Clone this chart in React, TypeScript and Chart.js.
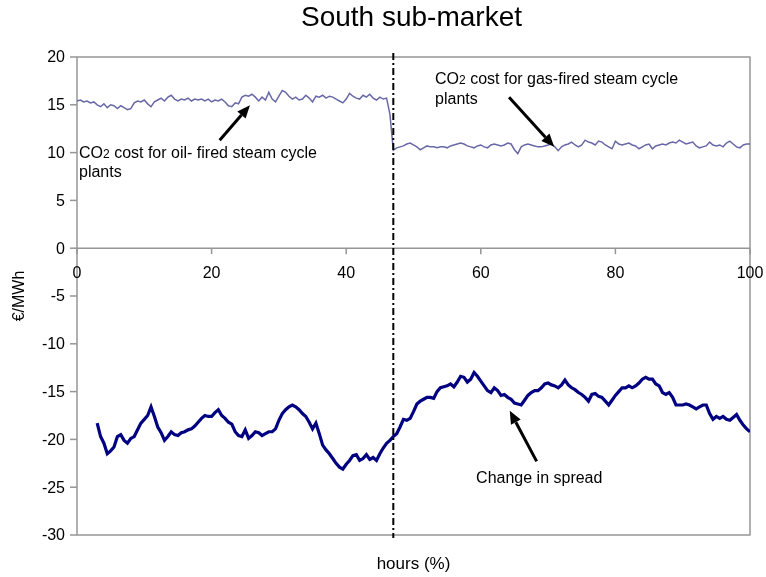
import React, { useEffect, useRef } from "react";
import { Chart, registerables } from "chart.js";
Chart.register(...registerables);

// ---------- data ----------
const X_MIN = 0;
const X_MAX = 100;
const Y_MIN = -30;
const Y_MAX = 20;
const xTicks = [0, 20, 40, 60, 80, 100];
const yTicks = [20, 15, 10, 5, 0, -5, -10, -15, -20, -25, -30];
const STEP = 0.5;
const switchPoint = 47;

const title = "South sub-market";
const xTitle = "hours (%)";
const yTitle = "€/MWh";

// CO2 cost, oil-fired steam cycle plants (x from 0)
const oilStart = 0;
const oilCost = [
  15.4, 15.5, 15.3, 15.4, 15.2, 15.3, 15.0, 14.8, 15.1, 14.7,
  15.0, 14.9, 14.6, 14.9, 14.7, 14.5, 14.6, 15.2, 15.4, 15.3,
  15.5, 15.1, 14.8, 15.3, 15.5, 15.7, 15.4, 15.8, 16.0, 15.6,
  15.4, 15.6, 15.5, 15.7, 15.4, 15.6, 15.5, 15.6, 15.4, 15.6,
  15.3, 15.5, 15.4, 15.6, 15.3, 14.9, 14.8, 15.2, 15.1, 15.8,
  16.0, 15.9, 16.1, 15.8, 15.4, 15.8, 15.5, 16.3, 15.6, 15.3,
  15.9, 16.5, 16.3, 15.9, 15.6, 15.8, 15.5, 15.6, 16.0, 15.7,
  15.3, 15.9, 15.8, 16.0, 15.7, 15.9, 15.8, 15.6, 15.4, 15.2,
  15.6, 16.2, 15.9, 15.7, 15.6, 16.0, 15.8, 16.1, 15.7, 15.5,
  15.8, 15.6, 15.7, 14.0,
];

// CO2 cost, gas-fired steam cycle plants (x from 47)
const gasStart = 47;
const gasCost = [
  10.25, 10.5, 10.6, 10.7, 10.9, 11.0, 10.8, 10.6, 10.3, 10.5,
  10.7, 10.6, 10.6, 10.5, 10.6, 10.6, 10.5, 10.7, 10.8, 10.9,
  11.0, 10.9, 10.7, 10.6, 10.5, 10.7, 10.8, 10.6, 10.5, 10.8,
  10.9, 10.8, 10.7, 10.8, 11.0, 10.9, 10.3, 9.9, 10.6, 10.8,
  10.9, 10.8, 10.7, 10.6, 10.6, 10.7, 10.8, 10.9, 10.6, 10.2,
  10.6, 10.8, 10.9, 11.1, 10.8, 10.6, 10.8, 11.3, 11.1, 11.0,
  10.8, 11.2, 11.1, 10.8, 10.6, 10.4, 11.2, 10.9, 10.8, 10.9,
  11.0, 10.8, 10.7, 10.4, 10.6, 10.8, 10.9, 10.4, 10.7, 10.8,
  10.9, 10.8, 11.0, 11.1, 11.0, 11.3, 11.1, 10.9, 11.0, 11.1,
  10.7, 10.5, 10.6, 10.7, 11.1, 10.8, 10.7, 10.8, 10.6, 11.0,
  11.2, 10.9, 10.6, 10.5, 10.8, 10.9, 10.9,
];

// Change in spread (x from 3 to 48)
const spreadStartA = 3;
const spreadA = [
  -18.3, -19.7, -20.4, -21.5, -21.2, -20.8, -19.7, -19.5, -20.1, -20.4,
  -19.9, -19.7, -19.0, -18.3, -17.9, -17.5, -16.6, -17.6, -18.7, -19.3,
  -20.1, -19.7, -19.2, -19.5, -19.6, -19.3, -19.2, -19.0, -18.9, -18.6,
  -18.2, -17.8, -17.5, -17.6, -17.6, -17.2, -16.9, -17.5, -17.8, -18.2,
  -18.4, -19.2, -19.6, -19.7, -19.0, -19.9, -19.6, -19.2, -19.3, -19.6,
  -19.4, -19.2, -19.2, -18.9, -18.0, -17.3, -16.9, -16.6, -16.4, -16.6,
  -16.9, -17.3, -17.6, -18.2, -18.9, -18.3, -19.4, -20.6, -21.1, -21.5,
  -22.0, -22.5, -22.9, -23.1, -22.6, -22.2, -21.7, -21.6, -22.2, -22.0,
  -21.6, -22.1, -21.9, -22.2, -21.5, -20.9, -20.4, -20.1, -19.7, -19.4,
  -18.7,
];
// Change in spread (x from 48.5 to 100)
const spreadStartB = 48.5;
const spreadB = [
  -17.9, -18.0, -17.8, -17.1, -16.3, -16.0, -15.8, -15.6, -15.6, -15.7,
  -15.0, -14.6, -14.5, -14.4, -14.2, -14.5, -14.0, -13.4, -13.5, -14.0,
  -13.7, -13.0, -13.4, -13.9, -14.4, -14.9, -15.1, -14.6, -14.9, -15.4,
  -15.3, -15.6, -15.8, -16.2, -16.3, -16.4, -15.9, -15.4, -15.1, -14.9,
  -14.9, -14.6, -14.2, -14.1, -14.3, -14.4, -14.6, -14.3, -13.8, -14.3,
  -14.6, -14.8, -15.1, -15.3, -15.6, -16.0, -15.3, -15.2, -15.5, -15.6,
  -16.0, -16.4, -15.9, -15.4, -15.0, -14.6, -14.6, -14.4, -14.6, -14.4,
  -14.1, -13.7, -13.5, -13.7, -13.7, -14.2, -14.4, -15.1, -15.3, -15.1,
  -15.6, -16.4, -16.4, -16.4, -16.3, -16.4, -16.6, -16.8, -16.6, -16.4,
  -16.4, -17.3, -17.9, -17.6, -17.8, -17.6, -17.9, -18.0, -17.7, -17.4,
  -18.0, -18.5, -18.9, -19.2,
];

// annotations (data coordinates)
const oilLabel = { x: 0.3, y1: 9.47, y2: 7.48, text: " cost for oil- fired steam cycle", text2: "plants" };
const oilArrow = { x1: 21.2, y1: 11.3, x2: 25.7, y2: 14.96 };
const gasLabel = { x: 53.2, y1: 17.15, y2: 15.06, text: " cost for gas-fired steam cycle", text2: "plants" };
const gasArrow = { x1: 64.2, y1: 15.8, x2: 70.9, y2: 10.6 };
const spreadLabel = { x: 59.3, y: -24.6, text: "Change in spread" };
const spreadArrow = { x1: 68.3, y1: -22.3, x2: 64.3, y2: -17.0 };

// ---------- helpers ----------
const FONT = "'Liberation Sans', Arial, Helvetica, sans-serif";
const AXIS = "#969696";

function toPoints(start: number, vals: number[]) {
  return vals.map((v, i) => ({ x: start + i * STEP, y: v }));
}

function drawArrow(ctx: CanvasRenderingContext2D, x1: number, y1: number, x2: number, y2: number) {
  const ang = Math.atan2(y2 - y1, x2 - x1);
  const head = 13;
  const half = 5.5;
  const bx = x2 - head * Math.cos(ang);
  const by = y2 - head * Math.sin(ang);
  ctx.save();
  ctx.strokeStyle = "#000";
  ctx.fillStyle = "#000";
  ctx.lineWidth = 3;
  ctx.beginPath();
  ctx.moveTo(x1, y1);
  ctx.lineTo(bx, by);
  ctx.stroke();
  ctx.beginPath();
  ctx.moveTo(x2, y2);
  ctx.lineTo(bx + half * Math.sin(ang), by - half * Math.cos(ang));
  ctx.lineTo(bx - half * Math.sin(ang), by + half * Math.cos(ang));
  ctx.closePath();
  ctx.fill();
  ctx.restore();
}

function drawCO2(ctx: CanvasRenderingContext2D, x: number, y: number, rest: string) {
  ctx.font = `16px ${FONT}`;
  ctx.fillText("CO", x, y);
  let w = ctx.measureText("CO").width;
  ctx.font = `12px ${FONT}`;
  ctx.fillText("2", x + w, y);
  w += ctx.measureText("2").width;
  ctx.font = `16px ${FONT}`;
  ctx.fillText(rest, x + w, y);
}

const decor = {
  id: "decor",
  beforeDatasetsDraw(chart: any) {
    const { ctx, chartArea: a, scales } = chart;
    const xs = scales.x;
    const ys = scales.y;
    ctx.save();
    ctx.strokeStyle = AXIS;
    ctx.lineWidth = 1.5;
    ctx.beginPath();
    ctx.moveTo(a.left, a.top);
    ctx.lineTo(a.right, a.top);
    ctx.lineTo(a.right, a.bottom);
    ctx.lineTo(a.left, a.bottom);
    ctx.closePath();
    ctx.stroke();
    const y0 = ys.getPixelForValue(0);
    ctx.beginPath();
    ctx.moveTo(a.left, y0);
    ctx.lineTo(a.right, y0);
    ctx.stroke();
    // y ticks + labels
    ctx.fillStyle = "#000";
    ctx.font = `16px ${FONT}`;
    ctx.textAlign = "right";
    ctx.textBaseline = "middle";
    for (const t of yTicks) {
      const py = ys.getPixelForValue(t);
      ctx.beginPath();
      ctx.moveTo(a.left - 7, py);
      ctx.lineTo(a.left, py);
      ctx.stroke();
      ctx.fillText(String(t), a.left - 12, py + 1);
    }
    // x ticks + labels on zero line
    ctx.textAlign = "center";
    for (const t of xTicks) {
      const px = xs.getPixelForValue(t);
      ctx.beginPath();
      ctx.moveTo(px, y0);
      ctx.lineTo(px, y0 + 6);
      ctx.stroke();
      ctx.fillText(String(t), px, y0 + 25);
    }
    ctx.restore();
  },
  afterDatasetsDraw(chart: any) {
    const { ctx, chartArea: a, scales } = chart;
    const xs = scales.x;
    const ys = scales.y;
    const X = (v: number) => xs.getPixelForValue(v);
    const Y = (v: number) => ys.getPixelForValue(v);
    ctx.save();
    // vertical dash-dot line
    const vx = X(switchPoint);
    ctx.strokeStyle = "#000";
    ctx.lineWidth = 2;
    ctx.setLineDash([7, 3, 2, 3]);
    ctx.beginPath();
    ctx.moveTo(vx, a.top - 4);
    ctx.lineTo(vx, a.bottom + 3);
    ctx.stroke();
    ctx.setLineDash([]);

    // annotations
    ctx.fillStyle = "#000";
    ctx.textAlign = "left";
    ctx.textBaseline = "alphabetic";
    drawCO2(ctx, X(oilLabel.x), Y(oilLabel.y1), oilLabel.text);
    ctx.font = `16px ${FONT}`;
    ctx.fillText(oilLabel.text2, X(oilLabel.x), Y(oilLabel.y2));
    drawCO2(ctx, X(gasLabel.x), Y(gasLabel.y1), gasLabel.text);
    ctx.font = `16px ${FONT}`;
    ctx.fillText(gasLabel.text2, X(gasLabel.x), Y(gasLabel.y2));
    ctx.fillText(spreadLabel.text, X(spreadLabel.x), Y(spreadLabel.y));
    drawArrow(ctx, X(oilArrow.x1), Y(oilArrow.y1), X(oilArrow.x2), Y(oilArrow.y2));
    drawArrow(ctx, X(gasArrow.x1), Y(gasArrow.y1), X(gasArrow.x2), Y(gasArrow.y2));
    drawArrow(ctx, X(spreadArrow.x1), Y(spreadArrow.y1), X(spreadArrow.x2), Y(spreadArrow.y2));

    // titles
    const cx = (a.left + a.right) / 2;
    ctx.textAlign = "center";
    ctx.textBaseline = "middle";
    ctx.font = `28px ${FONT}`;
    ctx.fillText(title, cx - 2, 18);
    ctx.font = `17px ${FONT}`;
    ctx.fillText(xTitle, cx, a.bottom + 29);
    ctx.save();
    ctx.translate(20, (a.top + a.bottom) / 2 + 0);
    ctx.rotate(-Math.PI / 2);
    ctx.font = `16px ${FONT}`;
    ctx.fillText(yTitle, 0, 0);
    ctx.restore();
    ctx.restore();
  },
};

export default function App() {
  const ref = useRef<HTMLCanvasElement | null>(null);
  useEffect(() => {
    if (!ref.current) return;
    const co2 = [...toPoints(oilStart, oilCost), ...toPoints(gasStart, gasCost)];
    const spread = [...toPoints(spreadStartA, spreadA), ...toPoints(spreadStartB, spreadB)];
    const chart = new Chart(ref.current, {
      type: "line",
      data: {
        datasets: [
          {
            label: "CO2 cost",
            data: co2,
            borderColor: "#6868a8",
            borderWidth: 1.5,
            pointRadius: 0,
            tension: 0,
          },
          {
            label: "Change in spread",
            data: spread,
            borderColor: "#000080",
            borderWidth: 3.2,
            pointRadius: 0,
            tension: 0,
          },
        ],
      },
      options: {
        responsive: false,
        animation: false,
        devicePixelRatio: 1,
        layout: { padding: { left: 77, right: 16, top: 57, bottom: 42 } },
        plugins: { legend: { display: false }, tooltip: { enabled: false }, title: { display: false } },
        scales: {
          x: { type: "linear", min: X_MIN, max: X_MAX, display: false },
          y: { type: "linear", min: Y_MIN, max: Y_MAX, display: false },
        },
      },
      plugins: [decor],
    });
    return () => chart.destroy();
  }, []);
  return (
    <div style={{ position: "fixed", left: 0, top: 0, width: 766, height: 577, background: "#fff" }}>
      <canvas ref={ref} width={766} height={577} style={{ display: "block" }} />
    </div>
  );
}
